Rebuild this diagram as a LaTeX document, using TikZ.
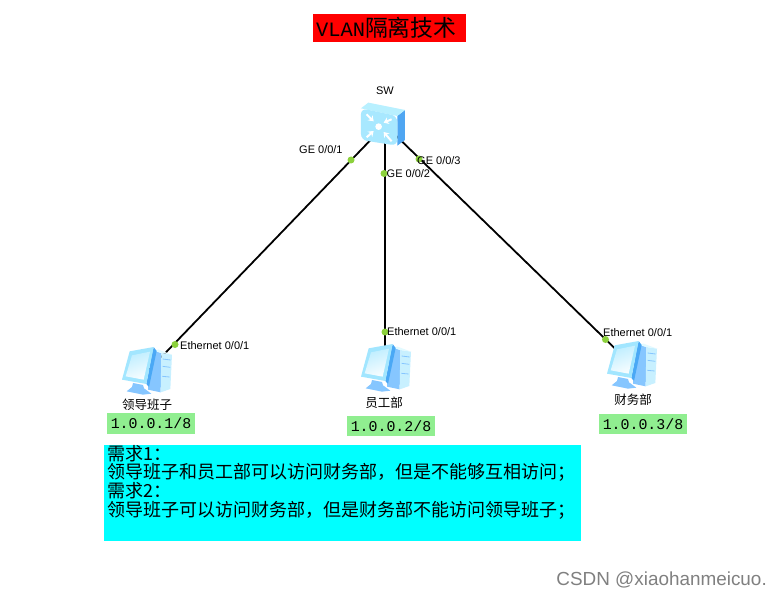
\documentclass[tikz,border=0pt]{standalone}
\usepackage{fontspec}
\usetikzlibrary{arrows.meta}
\setmainfont{Liberation Sans}
\setmonofont{Liberation Mono}
\newfontfamily\cjk{Noto Sans CJK SC}
\definecolor{portgreen}{HTML}{8CD13C}
\definecolor{ipgreen}{HTML}{90EE90}
\definecolor{reqcyan}{HTML}{00FFFF}
\definecolor{pcside}{HTML}{86C6FF}
\definecolor{pcfront}{HTML}{C8F0FF}
\definecolor{pctop}{HTML}{E2FAFF}
\definecolor{pcdark}{HTML}{4AA8F5}
\definecolor{pcframe}{HTML}{A2E6FF}
\definecolor{pcscreen}{HTML}{DDF8FF}
\definecolor{swfront}{HTML}{A8E8FF}
\definecolor{swtop}{HTML}{B8F0FF}
\definecolor{swside}{HTML}{4FA6F2}
\tikzset{
  x=1pt,y=-1pt,
  anchorpt/.style={inner sep=0pt,minimum size=0pt},
  link/.style={draw=black,line width=1.8pt},
  port/.style={circle,fill=portgreen,inner sep=0pt,minimum size=7pt},
  portlabel/.style={font=\fontsize{11}{11}\selectfont,inner sep=0pt,anchor=west,text=black},
  devname/.style={font=\cjk\fontsize{12.5}{13}\selectfont,inner sep=0pt,text=black},
  ipbox/.style={fill=ipgreen,inner sep=0pt,minimum height=20.5pt,font=\ttfamily\fontsize{14.9}{15}\selectfont,text=black},
  swarrow/.style={white,line width=2pt,-{Stealth[length=5pt,width=7pt]}},
  pics/pcicon/.style={code={
    \begin{scope}[x=.3333pt,y=-.3333pt,shift={(-62,-72)}]
      \fill[pcside] (150,82) -- (180,90) -- (178,208) -- (140,200) -- cycle;
      \fill[pcfront] (180,90) -- (212,95) -- (207,198) -- (178,208) -- cycle;
      \fill[pctop] (155,82) -- (172,80) -- (212,95) -- (180,90) -- cycle;
      \draw[pcside,line width=.8pt] (184,108) -- (208,111) (184,130) -- (207,133) (183,160) -- (205,162);
      \fill[pcside] (95,180) -- (125,186) -- (128,196) -- (150,212) -- (125,215) -- (76,205) -- (92,192) -- cycle;
      \fill[pcdark] (157,72) -- (166,84) -- (143,192) -- (135,183) -- cycle;
      \fill[pcframe] (85,85) -- (157,72) -- (135,183) -- (62,170) -- cycle;
      \shade[top color=pcframe!70!white,bottom color=white!92!pcframe,shading angle=20] (92,97) -- (146,86) -- (127,170) -- (73,160) -- cycle;
    \end{scope}}}
}
\begin{document}
\begin{tikzpicture}
\useasboundingbox (0,0) rectangle (781,596);
\fill[white] (0,0) rectangle (781,596);

% title
\node[fill=red,inner sep=0pt,minimum width=153pt,minimum height=28pt] (title) at (389.5,28) {};
\node[anchor=west,inner sep=0pt,text=black] (titletext) at (316,28)
  {\ttfamily\fontsize{20.4}{21}\selectfont VLAN{\cjk\fontsize{22.8}{23}\selectfont 隔离技术}};

% anchors
\node[anchorpt] (sw) at (385,125) {};
\node[anchorpt] (pc1) at (147,372) {};
\node[anchorpt] (pc2) at (385,370) {};
\node[anchorpt] (pc3) at (633,366) {};

% links
\draw[link] (sw) -- (pc1);
\draw[link] (sw) -- (pc2);
\draw[link] (sw) -- (pc3);

% switch
\begin{scope}[x=.3333pt,y=-.3333pt,shift={(870,0)}]
  \fill[swside] (322,348) -- (345,330) -- (345,420) -- (322,437) -- cycle;
  \fill[swtop] (213,325) -- (235,308) -- (345,330) -- (322,348) -- cycle;
  \fill[swfront,rounded corners=6pt] (213,325) -- (322,348) -- (322,437) -- (213,420) -- cycle;
  \fill[white] (266,380) circle (10);
  \draw[swarrow] (230,343) -- (251,364);
  \draw[swarrow] (305,358) -- (281,368);
  \draw[swarrow] (230,412) -- (251,393);
  \draw[swarrow] (305,424) -- (281,396);
\end{scope}

% computers
\pic at (122,347) {pcicon};
\pic at (361,344) {pcicon};
\pic at (607,341) {pcicon};

% ports
\node[port] (p1) at (351,160) {};
\node[port] (p2) at (384,173.5) {};
\node[port] (p3) at (419,159) {};
\node[port] (p4) at (175,344.5) {};
\node[port] (p5) at (385,332) {};
\node[port] (p6) at (605.5,339.5) {};

% labels
\node[font=\fontsize{11}{11}\selectfont,inner sep=0pt] (swname) at (385,90.5) {SW};
\node[portlabel] (l1) at (299,150) {GE 0/0/1};
\node[portlabel] (l2) at (386.5,174) {GE 0/0/2};
\node[portlabel] (l3) at (417,161) {GE 0/0/3};
\node[portlabel] (l4) at (180,346) {Ethernet 0/0/1};
\node[portlabel] (l5) at (387,332) {Ethernet 0/0/1};
\node[portlabel] (l6) at (603,333) {Ethernet 0/0/1};

\node[devname] (n1) at (147,404.5) {领导班子};
\node[devname] (n2) at (384,403) {员工部};
\node[devname] (n3) at (633,399.5) {财务部};

\node[ipbox,minimum width=88pt] (ip1) at (151,423.5) {1.0.0.1/8};
\node[ipbox,minimum width=88pt] (ip2) at (391,426) {1.0.0.2/8};
\node[ipbox,minimum width=88pt] (ip3) at (643,424) {1.0.0.3/8};

% requirements
\node[fill=reqcyan,inner sep=0pt,minimum width=477pt,minimum height=96pt] (req) at (342.5,493) {};
\node[anchor=north west,inner sep=0pt,align=left,font=\cjk\fontsize{18}{18.7}\selectfont,text=black] (reqtext) at (107,445)
  {需求1：\\领导班子和员工部可以访问财务部，但是不能够互相访问；\\需求2：\\领导班子可以访问财务部，但是财务部不能访问领导班子；};

% watermark
\node[anchor=east,inner sep=0pt,text=black!50,font=\fontsize{18.9}{19}\selectfont] (mark) at (767,580) {CSDN @xiaohanmeicuo.};
\end{tikzpicture}
\end{document}
